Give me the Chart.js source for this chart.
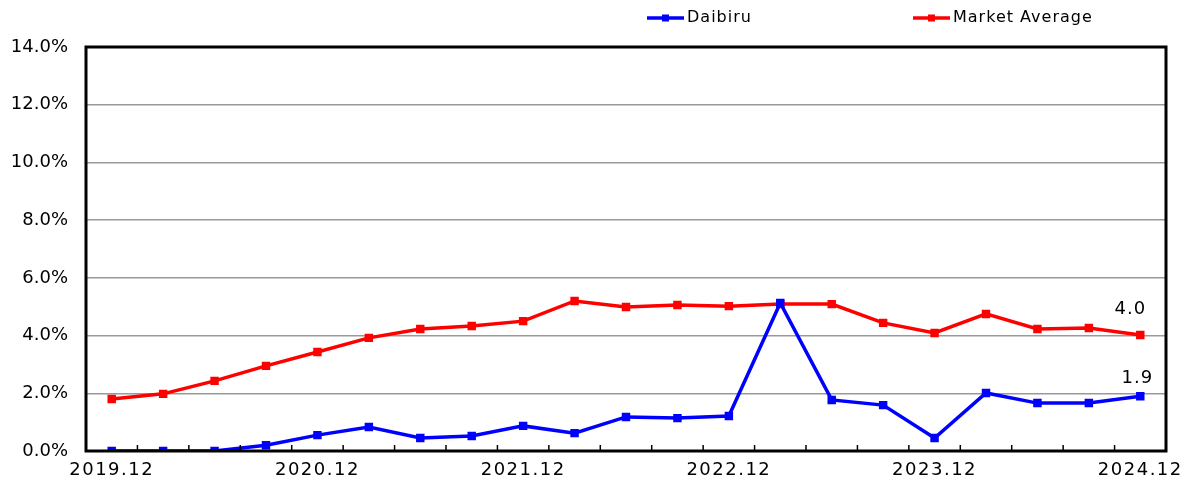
<!DOCTYPE html>
<html>
<head>
<meta charset="utf-8">
<script src="https://cdn.jsdelivr.net/npm/chart.js@4"></script>
<style>
  body { margin: 0; background: #fff; }
  #wrap { width: 1190px; height: 491px; }
</style>
</head>
<body>
<div id="wrap"><canvas id="c"></canvas></div>
<script>
const quarters = ["2019.12","2020.03","2020.06","2020.09","2020.12","2021.03","2021.06","2021.09","2021.12",
  "2022.03","2022.06","2022.09","2022.12","2023.03","2023.06","2023.09","2023.12","2024.03","2024.06","2024.09","2024.12"];
const daibiru = [0.0, 0.0, 0.0, 0.2, 0.55, 0.83, 0.45, 0.52, 0.87, 0.62, 1.18, 1.14, 1.21, 5.13, 1.77, 1.59, 0.45, 2.01, 1.66, 1.66, 1.9];
const marketAvg = [1.80, 1.98, 2.43, 2.95, 3.43, 3.92, 4.23, 4.33, 4.50, 5.20, 4.99, 5.06, 5.02, 5.09, 5.09, 4.44, 4.09, 4.75, 4.23, 4.26, 4.02];
const yTicks = [0, 2, 4, 6, 8, 10, 12, 14];

const FONT = "'DejaVu Sans', Verdana, sans-serif";

// frame, inner tick marks, end labels and legend
const decor = {
  id: "decor",
  afterDraw(chart) {
    const ctx = chart.ctx;
    const a = chart.chartArea;
    const x = chart.scales.x;
    ctx.save();
    // small ticks between quarters, pointing up into the plot
    ctx.strokeStyle = "#000";
    ctx.lineWidth = 1.5;
    for (let i = 1; i < quarters.length; i++) {
      const px = (x.getPixelForValue(i - 1) + x.getPixelForValue(i)) / 2;
      ctx.beginPath();
      ctx.moveTo(px, a.bottom);
      ctx.lineTo(px, a.bottom - 6);
      ctx.stroke();
    }
    ctx.lineWidth = 3;
    ctx.strokeRect(a.left, a.top, a.right - a.left, a.bottom - a.top);

    ctx.letterSpacing = "1px";
    // value labels at the last point
    ctx.fillStyle = "#000";
    ctx.font = "18px " + FONT;
    ctx.textAlign = "center";
    ctx.textBaseline = "bottom";
    const dx = [-3, -10], dy = [-9, -17];
    chart.data.datasets.forEach((ds, di) => {
      const meta = chart.getDatasetMeta(di);
      const last = meta.data[meta.data.length - 1];
      ctx.fillText(ds.data[ds.data.length - 1].toFixed(1), last.x + dx[di], last.y + dy[di]);
    });

    // legend
    ctx.font = "16px " + FONT;
    ctx.textAlign = "left";
    ctx.textBaseline = "middle";
    const legendX = [647, 913];
    chart.data.datasets.forEach((ds, di) => {
      const lx = legendX[di], ly = 18;
      ctx.strokeStyle = ds.borderColor;
      ctx.fillStyle = ds.borderColor;
      ctx.lineWidth = 3.5;
      ctx.beginPath();
      ctx.moveTo(lx, ly);
      ctx.lineTo(lx + 37, ly);
      ctx.stroke();
      ctx.fillRect(lx + 15, ly - 3.5, 7, 7);
      ctx.fillStyle = "#000";
      ctx.fillText(ds.label, lx + 40, ly);
    });
    ctx.restore();
  }
};

// x labels in the reference are a little wider spaced
function spaceLabels(scale) {
  if (scale._spaced) return;
  scale._spaced = true;
  const orig = scale.drawLabels;
  scale.drawLabels = function (area) {
    this.ctx.letterSpacing = "1.5px";
    orig.call(this, area);
    this.ctx.letterSpacing = "0px";
  };
}

new Chart(document.getElementById("c"), {
  type: "line",
  data: {
    labels: quarters,
    datasets: [
      {
        label: "Daibiru",
        data: daibiru,
        borderColor: "#0000ff",
        backgroundColor: "#0000ff",
        borderWidth: 3.5,
        pointStyle: "rect",
        pointRadius: 3.5,
        pointHoverRadius: 3.5,
        tension: 0
      },
      {
        label: "Market Average",
        data: marketAvg,
        borderColor: "#ff0000",
        backgroundColor: "#ff0000",
        borderWidth: 3.5,
        pointStyle: "rect",
        pointRadius: 3.5,
        pointHoverRadius: 3.5,
        tension: 0
      }
    ]
  },
  options: {
    responsive: true,
    maintainAspectRatio: false,
    animation: false,
    events: [],
    layout: { padding: { top: 47, right: 24, left: 0, bottom: 0 } },
    plugins: {
      legend: { display: false },
      tooltip: { enabled: false }
    },
    scales: {
      x: {
        offset: true,
        grid: { display: false, drawTicks: false },
        border: { display: false },
        afterFit(scale) { scale.height = 40; spaceLabels(scale); },
        ticks: {
          autoSkip: false,
          maxRotation: 0,
          padding: 9,
          color: "#000",
          font: { family: FONT, size: 18 },
          callback(v, i) { return i % 4 === 0 ? quarters[i] : ""; }
        }
      },
      y: {
        min: 0,
        max: 14,
        afterFit(scale) { scale.width = 86; },
        afterBuildTicks(scale) { scale.ticks = yTicks.map(v => ({ value: v })); },
        grid: { color: "#999", lineWidth: 1.5, drawTicks: false },
        border: { display: false },
        ticks: {
          padding: 18,
          color: "#000",
          font: { family: FONT, size: 18 },
          callback(v) { return v.toFixed(1) + "%"; }
        }
      }
    }
  },
  plugins: [decor]
});
</script>
</body>
</html>
